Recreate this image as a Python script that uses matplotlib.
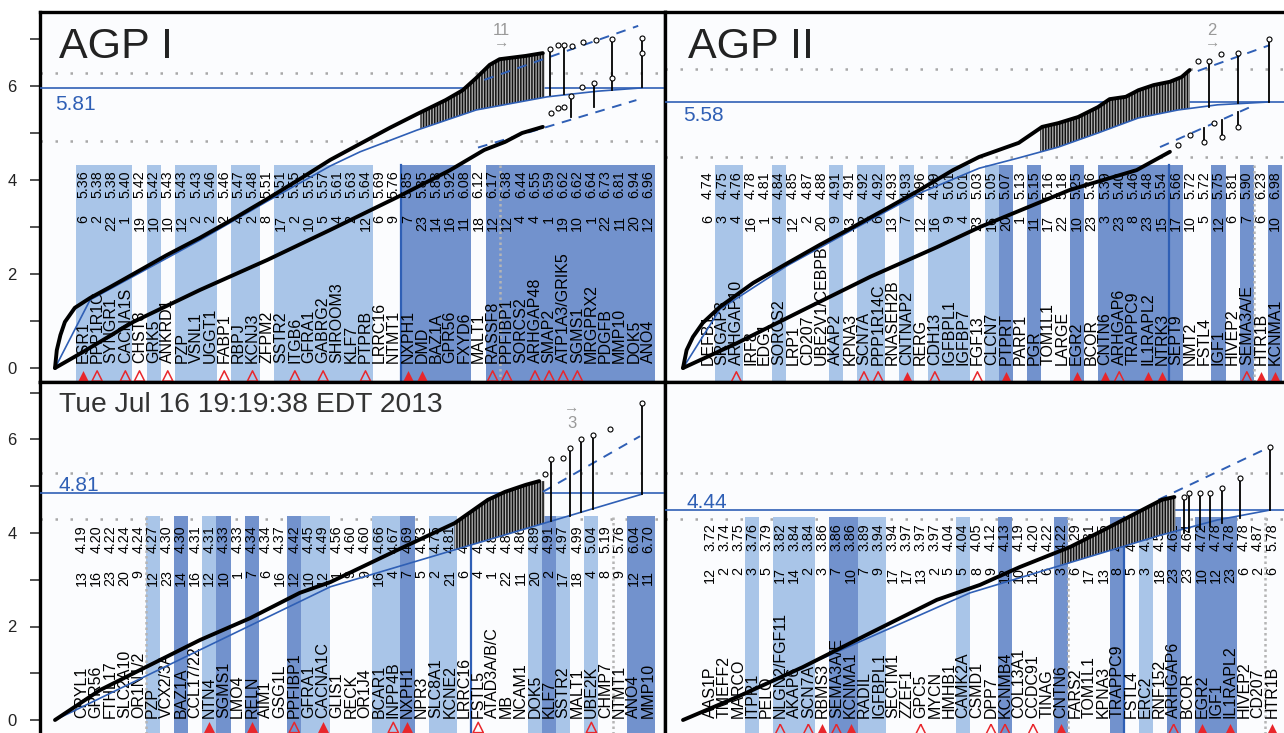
import numpy as np
import matplotlib.pyplot as plt

plt.rcParams['font.family'] = ['Liberation Sans', 'DejaVu Sans']
plt.rcParams['hatch.linewidth'] = 1.1

# ---------------- gene tables ----------------
tl_genes = ['ESR1', 'PPP1R1C', 'SYNGR1', 'CACNA1S', 'CHST8', 'GRK5', 'ANKRD1', 'PZP', 'VSNL1',
            'UGGT1', 'FABP1', 'RBPJ', 'KCNJ3', 'ZFPM2', 'SSTR2', 'ITGB6', 'GFRA1', 'GABRG2',
            'SHROOM3', 'KLF7', 'PTPRB', 'LRRC16', 'NTMT1', 'NXPH1', 'DMD', 'BAZ1A', 'GPR56',
            'FXYD6', 'MALT1', 'RASSF8', 'PPFIBP1', 'SORCS2', 'ARHGAP48', 'SMAP2',
            'ATP1A3/GRIK5', 'SGMS1', 'MRGPRX2', 'PDGFB', 'MMP10', 'DOK5', 'ANO4']
tl_chr = [6, 2, 22, 1, 19, 10, 10, 12, 2, 2, 2, 4, 2, 8, 17, 2, 10, 5, 4, 2, 12, 6, 9, 7, 23,
          14, 16, 11, 18, 12, 12, 4, 4, 1, 19, 10, 1, 22, 11, 20, 12]
tl_score = [5.36, 5.38, 5.38, 5.40, 5.42, 5.42, 5.43, 5.43, 5.43, 5.46, 5.46, 5.47, 5.48, 5.51,
            5.51, 5.55, 5.57, 5.57, 5.61, 5.63, 5.64, 5.69, 5.76, 5.85, 5.85, 5.88, 5.92, 6.08,
            6.12, 6.17, 6.38, 6.44, 6.55, 6.59, 6.62, 6.62, 6.64, 6.73, 6.81, 6.94, 6.96]
tl_shade = 'LLLL.L.LLL' + '.LL.LLLLLL' + 'L..DDDDD.D' + 'DDDDDDDDDDD'
tl_tri = 'FO.OO.O...' + 'O.O..O.O..' + 'O..FF....O' + 'O.OOOO.....'

tr_genes = ['DEFB1', 'SRGAP3', 'ARHGAP10', 'IRF8', 'EDG1', 'SORCS2', 'LRP1', 'CD207',
            'UBE2V1/CEBPB', 'AKAP2', 'KPNA3', 'SCN7A', 'PPP1R14C', 'RNASEH2B', 'CNTNAP2',
            'RERG', 'CDH13', 'IGFBPL1', 'IGFBP7', 'FGF13', 'CLCN7', 'PTPRT', 'PARP1', 'PGR',
            'TOM1L1', 'LARGE', 'EGR2', 'BCOR', 'CNTN6', 'ARHGAP6', 'TRAPPC9', 'IL1RAPL2',
            'NTRK3', 'SEPT9', 'NMT2', 'FSTL4', 'IGF1', 'HIVEP2', 'SEMA3A/E', 'HTR1B', 'KCNMA1']
tr_chr = [6, 3, 4, 16, 1, 4, 12, 2, 20, 9, 13, 2, 6, 13, 7, 12, 16, 9, 4, 23, 16, 20, 1, 11,
          17, 22, 10, 23, 3, 23, 8, 23, 15, 17, 10, 5, 12, 6, 7, 6, 10]
tr_score = [4.74, 4.75, 4.76, 4.78, 4.81, 4.84, 4.85, 4.87, 4.88, 4.91, 4.91, 4.92, 4.92, 4.93,
            4.93, 4.96, 4.99, 5.01, 5.01, 5.03, 5.05, 5.07, 5.13, 5.15, 5.16, 5.18, 5.25, 5.36,
            5.39, 5.40, 5.46, 5.48, 5.54, 5.66, 5.72, 5.72, 5.75, 5.81, 5.90, 6.23, 6.98]
tr_shade = '.LL..L...L' + '.LL.L.LLL.' + 'LD.D..D.DD' + 'DDDD..D.D.D'
tr_tri = '..O.......' + '.OO.F.O..O' + '.F....F.FO' + '.FF.....OFF'

bl_genes = ['CRYL1', 'GPR56', 'FTHL17', 'SLC2A10', 'OR1N1/2', 'PZP', 'VCX2/3A', 'BAZ1A',
            'CCL17/22', 'NTN4', 'SGMS1', 'LMO4', 'RELN', 'AIM1', 'GSG1L', 'PPFIBP1', 'GFRA1',
            'CACNA1C', 'GLIS1', 'RECK', 'OR1J4', 'BCAR1', 'INPP4B', 'NXPH1', 'NPR3', 'SLC8A1',
            'KCNE2', 'LRRC16', 'FSTL5', 'ATAD3A/B/C', 'MB', 'NCAM1', 'DOK5', 'KLF7', 'SSTR2',
            'MALT1', 'UBE2K', 'CHMP7', 'NTMT1', 'ANO4', 'MMP10']
bl_chr = [13, 16, 23, 20, 9, 12, 23, 14, 16, 12, 10, 1, 7, 6, 16, 12, 10, 12, 1, 9, 9, 16, 4,
          7, 5, 2, 21, 6, 4, 1, 22, 11, 20, 2, 17, 18, 4, 8, 9, 12, 11]
bl_score = [4.19, 4.20, 4.22, 4.24, 4.24, 4.27, 4.30, 4.30, 4.31, 4.31, 4.33, 4.33, 4.34, 4.34,
            4.37, 4.42, 4.45, 4.49, 4.56, 4.60, 4.60, 4.66, 4.67, 4.69, 4.73, 4.75, 4.81, 4.81,
            4.82, 4.84, 4.84, 4.86, 4.89, 4.91, 4.97, 4.99, 5.04, 5.19, 5.76, 6.04, 6.70]
bl_shade = '.....L.D.L' + 'D.D..DLL..' + '.LLD.LL...' + '..LDL.L..DD'
bl_tri = '.........F' + '..F..O.F..' + '..OF....O.' + '......O....'

br_genes = ['AAS1P', 'TMEFF2', 'MARCO', 'ITPR1', 'PELO', 'NLGN2/FGF11', 'AKAP6', 'SCN7A',
            'RBMS3', 'SEMA3A/E', 'KCNMA1', 'RADIL', 'IGFBPL1', 'SECTM1', 'ZZEF1', 'GPC5', 'MYCN',
            'HMHB1', 'CAMK2A', 'CSMD1', 'DPP7', 'KCNMB4', 'COL13A1', 'CCDC91', 'TINAG', 'CNTN6',
            'FARS2', 'TOM1L1', 'KPNA3', 'TRAPPC9', 'FSTL4', 'ERC2', 'RNF152', 'ARHGAP6', 'BCOR',
            'EGR2', 'IGF1', 'IL1RAPL2', 'HIVEP2', 'CD207', 'HTR1B']
br_chr = [12, 2, 2, 3, 5, 17, 14, 2, 3, 7, 10, 7, 9, 17, 17, 13, 2, 5, 5, 8, 9, 12, 10, 12, 6,
          3, 6, 17, 13, 8, 5, 3, 18, 23, 23, 10, 12, 23, 6, 2, 6]
br_score = [3.72, 3.74, 3.75, 3.76, 3.79, 3.82, 3.84, 3.84, 3.86, 3.86, 3.86, 3.89, 3.94, 3.94,
            3.97, 3.97, 3.97, 4.04, 4.04, 4.05, 4.12, 4.13, 4.19, 4.20, 4.22, 4.22, 4.29, 4.31,
            4.35, 4.40, 4.46, 4.50, 4.52, 4.62, 4.64, 4.72, 4.78, 4.78, 4.78, 4.87, 5.78]
br_shade = '...L.LLL.D' + 'DLL.....L.' + '.D...D...D' + '.L.D.DDD...'
br_tri = '.....O.OFO' + 'F....O....' + 'OO.O.F....' + '...O.F.F..F'

# ---------------- Q-Q curves (expected vs observed -log10 p) ----------------
tl_qx = [0, 0.02, 0.06, 0.11, 0.22, 0.39, 0.61, 0.87, 1.24, 1.61, 1.98, 2.36, 2.72, 3.06, 3.39,
         3.72, 4.02, 4.34, 4.53, 4.68, 4.83, 4.94, 5.23, 5.42]
tl_qy = [0, 0.38, 0.70, 0.98, 1.28, 1.49, 1.72, 2.00, 2.40, 2.77, 3.17, 3.60, 4.02, 4.43, 4.77,
         5.11, 5.40, 5.70, 5.91, 6.17, 6.45, 6.57, 6.64, 6.70]
tl_top_x = [5.50, 5.59, 5.66, 5.74, 5.87, 6.01, 6.19, 6.52]
tl_top_y = [6.79, 6.87, 6.87, 6.85, 6.94, 6.98, 7.00, 7.02]
tl_top_base = [5.80, np.nan, 5.83, np.nan, np.nan, np.nan, 5.92, 5.97]
tl_lx = [0, 0.31, 0.87, 1.61, 2.36, 3.06, 3.83, 4.39, 4.77, 5.00, 5.19, 5.42]
tl_ly = [0, 0.34, 0.98, 1.66, 2.30, 2.94, 3.66, 4.21, 4.64, 4.81, 5.00, 5.13]
tl_ltop_x = [5.51, 5.59, 5.66, 5.73, 5.86, 5.99, 6.19, 6.52]
tl_ltop_y = [5.43, 5.53, 5.55, 5.79, 5.98, 6.06, 6.17, 6.70]
tl_ltop_base = [np.nan, np.nan, np.nan, 5.34, np.nan, 5.55, np.nan, np.nan]
tl_bx = [0, 0.39, 0.87, 1.61, 2.36, 3.06, 3.39, 4.02, 4.68, 5.47, 6.03, 6.52]
tl_by = [0, 1.45, 1.95, 2.72, 3.55, 4.30, 4.60, 5.06, 5.49, 5.77, 5.89, 5.96]
tl_dash = ([4.77, 6.48], [6.13, 7.28])
tl_dash2 = ([4.70, 6.46], [4.69, 5.70])
tl_dense = (4.06, 5.44)

tr_qx = [0, 0.04, 0.11, 0.22, 0.41, 0.78, 1.16, 1.52, 1.89, 2.27, 2.63, 3.00, 3.29, 3.73, 3.99,
         4.17, 4.39, 4.61, 4.74, 4.92, 5.06, 5.23, 5.41, 5.54, 5.63]
tr_qy = [0, 0.38, 0.66, 0.96, 1.30, 1.81, 2.23, 2.62, 3.00, 3.40, 3.79, 4.21, 4.49, 4.79, 5.13,
         5.21, 5.34, 5.55, 5.72, 5.77, 5.91, 6.02, 6.09, 6.19, 6.34]
tr_top_x = [5.72, 5.84, 5.98, 6.17, 6.51]
tr_top_y = [6.53, 6.53, 6.68, 6.70, 7.00]
tr_top_base = [np.nan, 5.55, np.nan, 5.64, 5.66]
tr_lx = [0, 0.60, 1.33, 2.08, 2.82, 3.30, 4.30, 5.04, 5.41]
tr_ly = [0, 0.53, 1.23, 1.94, 2.57, 3.00, 3.79, 4.21, 4.60]
tr_ltop_x = [5.50, 5.63, 5.79, 5.90, 5.99, 6.17]
tr_ltop_y = [4.74, 4.96, 4.81, 5.21, 4.91, 5.13]
tr_ltop_base = [np.nan, np.nan, 5.11, np.nan, 5.28, 5.45]
tr_bx = [0, 0.41, 1.16, 1.89, 2.63, 3.29, 3.73, 4.17, 4.61, 5.06, 5.50, 5.94, 6.51]
tr_by = [0, 1.25, 2.18, 2.95, 3.72, 4.25, 4.47, 4.70, 5.00, 5.32, 5.49, 5.60, 5.66]
tr_dash = ([5.72, 6.52], [6.32, 6.87])
tr_dash2 = ([5.30, 6.30], [4.70, 5.55])
tr_dense = (3.97, 5.63)

bl_qx = [0, 0.50, 1.06, 1.61, 2.17, 2.72, 3.06, 3.83, 4.44, 4.81, 5.00, 5.23, 5.38]
bl_qy = [0, 0.64, 1.18, 1.71, 2.18, 2.72, 2.95, 3.66, 4.21, 4.71, 4.88, 5.03, 5.11]
bl_top_x = [5.44, 5.51, 5.64, 5.72, 5.84, 5.98, 6.17, 6.52]
bl_top_y = [5.26, 5.58, 5.60, 5.82, 6.01, 6.10, 6.22, 6.78]
bl_top_base = [np.nan, 4.25, np.nan, 4.37, 4.44, 4.52, np.nan, 4.83]
bl_bx = [0, 3.06, 6.31, 6.52]
bl_by = [0, 2.85, 4.71, 4.83]
bl_dash = ([5.42, 6.50], [4.88, 6.07])
bl_dense = (4.44, 5.44)

br_qx = [0, 0.60, 1.33, 2.08, 2.82, 3.30, 3.74, 4.30, 4.67, 5.04, 5.32, 5.46]
br_qy = [0, 0.49, 1.13, 1.86, 2.57, 2.89, 3.27, 3.70, 4.06, 4.43, 4.71, 4.77]
br_top_x = [5.57, 5.62, 5.74, 5.86, 5.99, 6.19, 6.52]
br_top_y = [4.77, 4.86, 4.86, 4.86, 4.96, 5.18, 5.84]
br_top_base = [4.00, 4.03, 4.09, 4.15, 4.22, 4.33, 4.49]
br_bx = [0, 3.19, 5.30, 5.94, 6.52]
br_by = [0, 2.72, 3.95, 4.28, 4.49]
br_dash = ([5.28, 6.52], [4.71, 5.84])
br_dense = (4.19, 5.47)

# thresholds: (line value, label text, label baseline)
tl_thr = (5.95, '5.81', 5.49)
tr_thr = (5.66, '5.58', 5.26)
bl_thr = (4.86, '4.81', 4.90)
br_thr = (4.49, '4.44', 4.53)
tl_dots, tr_dots, bl_dots, br_dots = [6.28, 4.83], [6.36, 4.49], [5.28, 4.30], [5.28, 4.30]
tl_cuts, tr_cuts, bl_cuts, br_cuts = [6.28], [6.0], [4.25, 5.28], [4.25, 5.28]

W, H = 1284, 733
LIGHT = '#a9c5e8'
DARK = '#7292cd'
BLUE = '#2f5fb5'
RED = '#e8262b'
GRAY = '#a8a8a8'


def rect(x0, y0, x1, y1):
    return [x0 / W, 1 - y1 / H, (x1 - x0) / W, (y1 - y0) / H]


def draw_stems(q, xs, ys, bases, color='black'):
    for x, y, b in zip(xs, ys, bases):
        if not np.isnan(b):
            q.plot([x, x], [b, y], color=color, lw=1.3, zorder=4)
    q.plot(xs, ys, 'o', ms=3.6, mfc='white', mec='black', mew=0.8, zorder=6)


def draw_panel(fig, box, ylim, glim, qlim, p, left_axis, hide):
    ax = fig.add_axes(rect(*box))
    ax.set_facecolor('#fbfcfe')
    ax.set_xlim(glim)
    ax.set_ylim(ylim)

    # dotted reference levels sit behind the gene bars
    for lev in p['dots']:
        ax.axhline(lev, color=GRAY, lw=1.8, ls=(0, (1, 5)), zorder=0.5)

    bar_top = p['bar_top']
    cmap = {'L': LIGHT, 'D': DARK}
    for i, s in enumerate(p['shade']):
        if s in cmap:
            ax.bar(i, bar_top + 1, bottom=-1, width=1.0, color=cmap[s], lw=0, zorder=1)

    # threshold / dotted crossings among the ranked genes
    scores = np.array(p['score'])
    k = np.searchsorted(scores, float(p['thr'][1]), side='right')
    ax.plot([k - 0.5, k - 0.5], [-1, bar_top], color=BLUE, lw=1.6, zorder=2)
    for lev in p['cuts']:
        k = np.searchsorted(scores, lev)
        if 0 < k < len(scores):
            ax.plot([k - 0.5, k - 0.5], [-1, bar_top], color='#b5b5b5', lw=1.8,
                    ls=(0, (1, 1.2)), zorder=2)

    for i, (g, c, s) in enumerate(zip(p['genes'], p['chr'], p['score'])):
        ax.text(i, p['name_y'], g, rotation=90, ha='center', va='bottom', fontsize=11.5, zorder=3)
        ax.text(i, p['score_y'], f'{s:.2f}', rotation=90, ha='center', va='top', fontsize=10.3, zorder=3)
        ax.text(i, p['chr_y'], str(c), rotation=90, ha='center', va='top', fontsize=10.3, zorder=3)

    filled = [i for i, t in enumerate(p['tri']) if t == 'F']
    hollow = [i for i, t in enumerate(p['tri']) if t == 'O']
    ax.scatter(filled, [p['tri_y']] * len(filled), marker='^', s=62, color=RED, lw=0, zorder=3)
    ax.scatter(hollow, [p['tri_y']] * len(hollow), marker='^', s=55, facecolors='none',
               edgecolors=RED, linewidths=1.1, zorder=3)

    thr_val, thr_txt, thr_lab_y = p['thr']
    ax.text(p['lab_x'], thr_lab_y, thr_txt, transform=ax.get_yaxis_transform(),
            color=BLUE, fontsize=15, zorder=5)

    ax.tick_params(axis='x', bottom=False, labelbottom=False)
    ax.set_yticks(range(0, 8))
    if left_axis:
        ax.set_yticklabels(['0', '', '2', '', '4', '', '6', ''])
        ax.tick_params(axis='y', direction='out', length=7, width=1.1, pad=10,
                       labelsize=12, colors='#222222')
    else:
        ax.tick_params(axis='y', left=False, labelleft=False)
    for name, sp in ax.spines.items():
        sp.set_linewidth(2.4)
        sp.set_visible(name not in hide)

    # Q-Q layer on top
    q = ax.twiny()
    q.set_xlim(qlim)
    q.set_axis_off()
    q.axhline(thr_val, color=BLUE, lw=1.2, zorder=2)

    bx, by = p['blue']
    cx, cy = p['curve']
    d0, d1 = p['dense']
    xs = np.linspace(d0, d1, 200)
    q.fill_between(xs, np.interp(xs, cx, cy), np.interp(xs, bx, by), facecolor='#b4b4b4',
                   edgecolor='#111111', hatch='||||||', lw=0, zorder=3)

    q.plot(bx, by, color=BLUE, lw=1.2, zorder=4)
    for dx, dy in p['dashes']:
        q.plot(dx, dy, color=BLUE, lw=1.4, ls=(0, (5, 4)), zorder=4)
    if p.get('lower') is not None:
        lx, ly, ltx, lty, ltb = p['lower']
        q.plot(lx, ly, color='black', lw=2.8, solid_capstyle='round', zorder=5)
        draw_stems(q, ltx, lty, ltb)
    q.plot(cx, cy, color='black', lw=2.8, solid_capstyle='round', zorder=5)
    tx, ty, tb = p['tops']
    draw_stems(q, tx, ty, tb)
    return ax, q


fig = plt.figure(figsize=(W / 100, H / 100), dpi=100)
fig.patch.set_facecolor('white')

top_ylim = ((368 - 382) / 47, (368 - 12) / 47)
bot_ylim = ((720 - 733) / 46.75, (720 - 382) / 46.75)

tl = dict(genes=tl_genes, chr=tl_chr, score=tl_score, shade=tl_shade, tri=tl_tri,
          bar_top=4.32, name_y=0.10, score_y=4.21, chr_y=3.25, tri_y=-0.17,
          thr=tl_thr, lab_x=0.024, dots=tl_dots, cuts=tl_cuts,
          curve=(tl_qx, tl_qy), tops=(tl_top_x, tl_top_y, tl_top_base),
          lower=(tl_lx, tl_ly, tl_ltop_x, tl_ltop_y, tl_ltop_base),
          blue=(tl_bx, tl_by), dashes=[tl_dash, tl_dash2], dense=tl_dense)
tr = dict(genes=tr_genes, chr=tr_chr, score=tr_score, shade=tr_shade, tri=tr_tri,
          bar_top=4.32, name_y=0.06, score_y=4.19, chr_y=3.25, tri_y=-0.19,
          thr=tr_thr, lab_x=0.029, dots=tr_dots, cuts=tr_cuts,
          curve=(tr_qx, tr_qy), tops=(tr_top_x, tr_top_y, tr_top_base),
          lower=(tr_lx, tr_ly, tr_ltop_x, tr_ltop_y, tr_ltop_base),
          blue=(tr_bx, tr_by), dashes=[tr_dash, tr_dash2], dense=tr_dense)
bl = dict(genes=bl_genes, chr=bl_chr, score=bl_score, shade=bl_shade, tri=bl_tri,
          bar_top=4.36, name_y=0.04, score_y=4.17, chr_y=3.21, tri_y=-0.16,
          thr=bl_thr, lab_x=0.030, dots=bl_dots, cuts=bl_cuts,
          curve=(bl_qx, bl_qy), tops=(bl_top_x, bl_top_y, bl_top_base), lower=None,
          blue=(bl_bx, bl_by), dashes=[bl_dash], dense=bl_dense)
br = dict(genes=br_genes, chr=br_chr, score=br_score, shade=br_shade, tri=br_tri,
          bar_top=4.34, name_y=0.04, score_y=4.21, chr_y=3.27, tri_y=-0.20,
          thr=br_thr, lab_x=0.034, dots=br_dots, cuts=br_cuts,
          curve=(br_qx, br_qy), tops=(br_top_x, br_top_y, br_top_base), lower=None,
          blue=(br_bx, br_by), dashes=[br_dash], dense=br_dense)

ax_tl, q_tl = draw_panel(fig, (40, 12, 665, 382), top_ylim, ((40 - 83) / 14.125, (665 - 83) / 14.125),
                         ((40 - 55) / 90, (665 - 55) / 90), tl, True, [])
ax_tr, q_tr = draw_panel(fig, (665, 12, 1284, 382), top_ylim, ((665 - 708) / 14.18, (1284 - 708) / 14.18),
                         ((665 - 683) / 90, (1284 - 683) / 90), tr, False, ['right'])
ax_bl, q_bl = draw_panel(fig, (40, 382, 665, 733), bot_ylim, ((40 - 82) / 14.15, (665 - 82) / 14.15),
                         ((40 - 55) / 90, (665 - 55) / 90), bl, True, ['bottom'])
ax_br, q_br = draw_panel(fig, (665, 382, 1284, 733), bot_ylim, ((665 - 710) / 14.05, (1284 - 710) / 14.05),
                         ((665 - 683) / 90, (1284 - 683) / 90), br, False, ['right', 'bottom'])

ax_tl.text(0.030, 0.876, 'AGP I', transform=ax_tl.transAxes, fontsize=31, color='#222222', zorder=6)
ax_tr.text(0.037, 0.876, 'AGP II', transform=ax_tr.transAxes, fontsize=31, color='#222222', zorder=6)
ax_bl.text(0.030, 0.9145, 'Tue Jul 16 19:19:38 EDT 2013', transform=ax_bl.transAxes,
           fontsize=20.3, color='#333333', zorder=6)

# counts of points beyond the plotted range
q_tl.text(4.96, 7.19, '11', ha='center', va='center', color='#999999', fontsize=12)
q_tl.text(4.96, 6.92, '\u2192', ha='center', va='center', color='#999999', fontsize=11)
q_tr.text(5.88, 7.19, '2', ha='center', va='center', color='#999999', fontsize=12)
q_tr.text(5.88, 6.92, '\u2192', ha='center', va='center', color='#999999', fontsize=11)
q_bl.text(5.74, 6.35, '3', ha='center', va='center', color='#999999', fontsize=12)
q_bl.text(5.74, 6.67, '\u2192', ha='center', va='center', color='#999999', fontsize=11)

fig.savefig('out.png', dpi=100, facecolor='white')
